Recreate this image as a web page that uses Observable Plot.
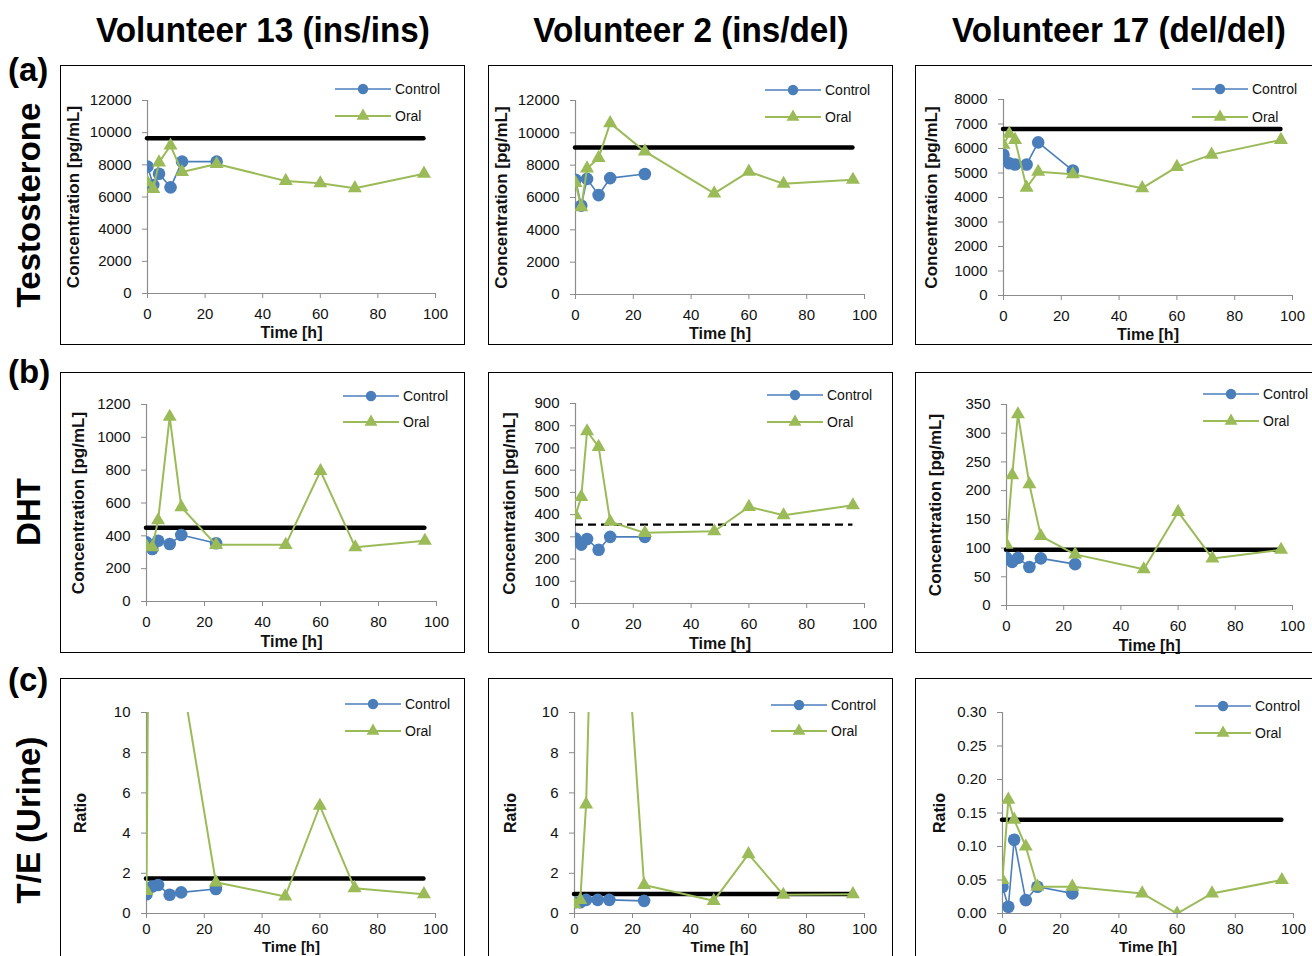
<!DOCTYPE html>
<html>
<head>
<meta charset="utf-8">
<script src="https://cdn.jsdelivr.net/npm/d3@7"></script>
<script src="https://cdn.jsdelivr.net/npm/@observablehq/plot@0.6"></script>
<style>
  body { margin: 0; background: #fff; }
  #root { position: relative; width: 1312px; height: 956px; overflow: hidden; background: #fff;
          font-family: "Liberation Sans", Arial, Helvetica, sans-serif; color: #000; }
  .txt { position: absolute; white-space: nowrap; line-height: 1; font-weight: bold; }
  .rot { position: absolute; white-space: nowrap; line-height: 1; font-weight: bold;
         transform: translate(-50%, -50%) rotate(-90deg); }
  .panel { position: absolute; }
  .panel svg.plot { position: absolute; left: 0; top: 0; }
  .border { position: absolute; box-sizing: border-box; border: 1.5px solid #000; pointer-events: none; }
  .legend { position: absolute; left: 0; top: 0; overflow: visible; }
  g[aria-label="y-axis label"] text, g[aria-label="x-axis label"] text { font-weight: bold; }
  g[aria-label="x-axis label"] text { font-size: 16px; }
  .ratio g[aria-label="x-axis label"] text { font-size: 15px; }
  .conc g[aria-label="y-axis label"] text { font-size: 17px; }
  .ratio g[aria-label="y-axis label"] text { font-size: 16px; }
</style>
</head>
<body>
<div id="root"></div>
<script>
// ---------------- DATA ----------------
const columnTitles = ["Volunteer 13 (ins/ins)", "Volunteer 2 (ins/del)", "Volunteer 17 (del/del)"];
const rowLetters = ["(a)", "(b)", "(c)"];
const rowNames = ["Testosterone", "DHT", "T/E (Urine)"];
const rowYLabels = ["Concentration [pg/mL]", "Concentration [pg/mL]", "Ratio"];
const xLabel = "Time [h]";
const seriesNames = ["Control", "Oral"];

const controlTimes = [0, 2, 4, 8, 12, 24];
const oralTimes = [0, 2, 4, 8, 12, 24, 48, 60, 72, 96];
const xTicks = [0, 20, 40, 60, 80, 100];

// (a) Testosterone [pg/mL]
const testoControl13 = [7900, 6750, 7450, 6600, 8200, 8200];
const testoOral13    = [6900, 6500, 8150, 9200, 7550, 8050, 7000, 6850, 6550, 7450];
const testoControl2  = [7100, 5500, 7150, 6150, 7200, 7450];
const testoOral2     = [6900, 5400, 7800, 8450, 10600, 8850, 6250, 7600, 6850, 7100];
const testoControl17 = [5750, 5400, 5350, 5350, 6250, 5100];
const testoOral17    = [6150, 6600, 6350, 4400, 5050, 4950, 4380, 5250, 5750, 6350];
const testoReference = [9650, 9100, 6800];
const testoTicks13 = [0, 2000, 4000, 6000, 8000, 10000, 12000];
const testoTicks2  = [0, 2000, 4000, 6000, 8000, 10000, 12000];
const testoTicks17 = [0, 1000, 2000, 3000, 4000, 5000, 6000, 7000, 8000];

// (b) DHT [pg/mL]
const dhtControl13 = [360, 320, 370, 350, 405, 355];
const dhtOral13    = [335, 330, 495, 1125, 575, 345, 345, 795, 330, 370];
const dhtControl2  = [292, 265, 290, 242, 300, 300];
const dhtOral2     = [397, 480, 775, 705, 368, 318, 325, 435, 397, 442];
const dhtControl17 = [83, 76, 83, 67, 82, 72];
const dhtOral17    = [106, 227, 333, 211, 121, 89, 63, 163, 82, 97];
const dhtReference = [450, 355, 97];
const dhtTicks13 = [0, 200, 400, 600, 800, 1000, 1200];
const dhtTicks2  = [0, 100, 200, 300, 400, 500, 600, 700, 800, 900];
const dhtTicks17 = [0, 50, 100, 150, 200, 250, 300, 350];

// (c) T/E ratio (urine)
const teControl13 = [0.96, 1.34, 1.42, 0.93, 1.05, 1.22];
const teOral13    = [1.12, 40, 60, 30, 12, 1.55, 0.85, 5.36, 1.26, 0.96];
const teControl2  = [0.56, 0.56, 0.68, 0.68, 0.68, 0.63];
const teOral2     = [0.46, 0.68, 5.43, 27, 26.5, 1.42, 0.63, 2.95, 0.93, 0.96];
const teControl17 = [0.04, 0.01, 0.11, 0.02, 0.04, 0.03];
const teOral17    = [0.05, 0.17, 0.14, 0.10, 0.04, 0.04, 0.03, 0.00, 0.03, 0.05];
const teReference = [1.74, 0.97, 0.14];
const teTicks13 = [0, 2, 4, 6, 8, 10];
const teTicks2  = [0, 2, 4, 6, 8, 10];
const teTicks17 = [0, 0.05, 0.10, 0.15, 0.20, 0.25, 0.30];

const referenceEnd = 96;

// ---------------- LAYOUT / STYLE ----------------
const BLUE = "#4a7ebb";
const GREEN = "#9bbb59";
const AXIS = "#8c8c8c";

const colLeft = [60, 488, 915], colWidth = [405, 405, 400];
const rowTop = [65, 372, 678], rowHeight = [280, 281, 290];
const rowLabelSize = [17, 17, 16];
const rowXLabelOffset = [44, 45, 38];
const rowXTickPadding = [10, 10, 5];
const intFmt = d3.format("d");

const panels = [
  {r:0,c:0, ctl:testoControl13, oral:testoOral13, ref:testoReference[0], ticks:testoTicks13, m:[35,30,52,87], lg:[275,24,51], lc:72},
  {r:0,c:1, ctl:testoControl2,  oral:testoOral2,  ref:testoReference[1], ticks:testoTicks2,  m:[35,29,51,87], lg:[277,25,52], lc:72},
  {r:0,c:2, ctl:testoControl17, oral:testoOral17, ref:testoReference[2], ticks:testoTicks17, m:[34,23,50,88], lg:[277,24,52], lc:70},
  {r:1,c:0, ctl:dhtControl13, oral:dhtOral13, ref:dhtReference[0], ticks:dhtTicks13, m:[32,29,52,86], lg:[283,24,50], lc:66},
  {r:1,c:1, ctl:dhtControl2,  oral:dhtOral2,  ref:dhtReference[1], ticks:dhtTicks2,  m:[31,29,50,87], lg:[279,23,50], lc:64, dashed:true},
  {r:1,c:2, ctl:dhtControl17, oral:dhtOral17, ref:dhtReference[2], ticks:dhtTicks17, m:[32,23,48,91], lg:[288,22,49], lc:69},
  {r:2,c:0, ctl:teControl13, oral:teOral13, ref:teReference[0], ticks:teTicks13, m:[34,30,55,86], lg:[285,26,53], lc:64},
  {r:2,c:1, ctl:teControl2,  oral:teOral2,  ref:teReference[1], ticks:teTicks2,  m:[34,29,55,86], lg:[283,27,53], lc:62},
  {r:2,c:2, ctl:teControl17, oral:teOral17, ref:teReference[2], ticks:teTicks17, m:[34,22,55,87], lg:[280,28,55], lc:61, fmt:d3.format(".2f")}
];

const root = document.getElementById("root");

function addText(cls, text, styles) {
  const d = document.createElement("div");
  d.className = cls;
  d.textContent = text;
  Object.assign(d.style, styles);
  root.appendChild(d);
  return d;
}

// column titles
const titleCenters = [263, 691, 1119];
columnTitles.forEach((t, i) => {
  addText("txt", t, {left: titleCenters[i] + "px", top: "12px", fontSize: "35px",
    transform: "translateX(-50%) scaleX(0.95)"});
});
// row letters and names
const letterTops = [53, 355, 663];
rowLetters.forEach((t, i) => addText("txt", t, {left: "8px", top: letterTops[i] + "px", fontSize: "33px"}));
const nameCenters = [205, 512, 820];
rowNames.forEach((t, i) => addText("rot", t, {left: "28px", top: nameCenters[i] + "px", fontSize: "33px"}));

// panels
for (const p of panels) {
  const W = colWidth[p.c], H = rowHeight[p.r];
  const [mt, mr, mb, ml] = p.m;
  const ymax = p.ticks[p.ticks.length - 1];
  const ctl = controlTimes.map((t, i) => ({t, v: p.ctl[i]}));
  const oral = oralTimes.map((t, i) => ({t, v: p.oral[i]}));

  const panel = document.createElement("div");
  panel.className = "panel " + (p.r === 2 ? "ratio" : "conc");
  Object.assign(panel.style, {left: colLeft[p.c] + "px", top: rowTop[p.r] + "px", width: W + "px", height: H + "px"});
  root.appendChild(panel);

  const chart = Plot.plot({
    width: W, height: H,
    marginTop: mt, marginRight: mr, marginBottom: mb, marginLeft: ml,
    style: {background: "transparent", fontFamily: "Liberation Sans, Arial, sans-serif", fontSize: "15px", color: "#111", overflow: "visible"},
    x: {domain: [0, 100]},
    y: {domain: [0, ymax]},
    marks: [
      Plot.axisX({ticks: xTicks, tickSize: 5, tickPadding: rowXTickPadding[p.r], stroke: AXIS, label: xLabel, tickFormat: intFmt,
                  labelAnchor: "center", labelOffset: rowXLabelOffset[p.r], labelArrow: "none"}),
      Plot.axisY({ticks: p.ticks, tickSize: 5, tickPadding: 11, stroke: AXIS, label: rowYLabels[p.r],
                  labelAnchor: "center", labelOffset: p.lc + rowLabelSize[p.r] / 2, labelArrow: "none",
                  tickFormat: p.fmt || intFmt}),
      Plot.ruleX([0], {stroke: AXIS, strokeWidth: 1.2}),
      Plot.ruleY([0], {stroke: AXIS, strokeWidth: 1.2}),
      Plot.ruleY([{y: p.ref, x1: 0, x2: referenceEnd}], {y: "y", x1: "x1", x2: "x2", stroke: "#000",
        strokeWidth: p.dashed ? 2.2 : 4.5, strokeDasharray: p.dashed ? "8,5" : null,
        strokeLinecap: p.dashed ? "butt" : "round"}),
      Plot.line(ctl, {x: "t", y: "v", stroke: BLUE, strokeWidth: 1.6, clip: true}),
      Plot.dot(ctl, {x: "t", y: "v", r: 6.3, fill: BLUE, stroke: "none", symbol: "circle", clip: true}),
      Plot.line(oral, {x: "t", y: "v", stroke: GREEN, strokeWidth: 2, clip: true}),
      Plot.dot(oral, {x: "t", y: "v", r: 5.2, fill: GREEN, stroke: "none", symbol: "triangle", clip: true})
    ]
  });
  chart.classList.add("plot");
  panel.appendChild(chart);

  // legend
  const [lx, ly1, ly2] = p.lg;
  const len = 56;
  const svg = d3.select(panel).append("svg").attr("class", "legend").attr("width", W).attr("height", H);
  const items = [
    {name: seriesNames[0], y: ly1, color: BLUE, sym: d3.symbolCircle, size: Math.PI * 5.2 * 5.2, sw: 1.6},
    {name: seriesNames[1], y: ly2, color: GREEN, sym: d3.symbolTriangle, size: Math.PI * 4.8 * 4.8, sw: 2}
  ];
  for (const it of items) {
    svg.append("line").attr("x1", lx).attr("x2", lx + len).attr("y1", it.y).attr("y2", it.y)
      .attr("stroke", it.color).attr("stroke-width", it.sw);
    svg.append("path").attr("d", d3.symbol(it.sym, it.size)()).attr("transform", `translate(${lx + len / 2},${it.y})`)
      .attr("fill", it.color);
    svg.append("text").attr("x", lx + len + 4).attr("y", it.y).attr("dy", "0.35em")
      .attr("font-size", 14).attr("font-family", "Liberation Sans, Arial, sans-serif").attr("fill", "#111").text(it.name);
  }

  const border = document.createElement("div");
  border.className = "border";
  Object.assign(border.style, {left: "0px", top: "0px", width: W + "px", height: H + "px"});
  panel.appendChild(border);
}
</script>
</body>
</html>
